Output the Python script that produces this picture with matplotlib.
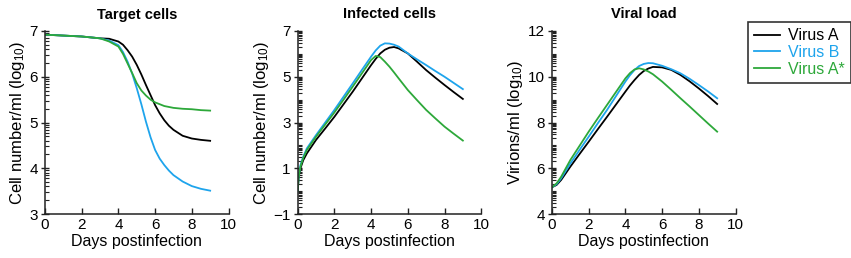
import numpy as np
import matplotlib
matplotlib.use("Agg")
import matplotlib.pyplot as plt
from matplotlib.ticker import FixedLocator

plt.rcParams['font.family'] = ['Liberation Sans', 'DejaVu Sans']
plt.rcParams['mathtext.fontset'] = 'custom'
plt.rcParams['mathtext.rm'] = 'Liberation Sans'
plt.rcParams['mathtext.it'] = 'Liberation Sans'

series_names = ["Virus A", "Virus B", "Virus A*"]
colors = ["#000000", "#1EA4EC", "#2DA83A"]

# Target cells
days_t = [0, 0.5, 1, 1.5, 2, 2.5, 3, 3.5, 4, 4.25, 4.5, 4.75, 5, 5.25, 5.5, 5.75, 6, 6.25, 6.5, 6.75, 7, 7.5, 8, 8.5, 9]
target_A = [6.92, 6.91, 6.90, 6.89, 6.88, 6.86, 6.84, 6.83, 6.77, 6.70, 6.58, 6.44, 6.26, 6.05, 5.82, 5.60, 5.38, 5.20, 5.05, 4.93, 4.84, 4.71, 4.65, 4.62, 4.60]
target_B = [6.92, 6.91, 6.90, 6.89, 6.88, 6.86, 6.84, 6.79, 6.69, 6.54, 6.33, 6.07, 5.75, 5.40, 5.02, 4.68, 4.40, 4.21, 4.07, 3.95, 3.85, 3.71, 3.61, 3.55, 3.51]
target_As = [6.92, 6.91, 6.90, 6.89, 6.88, 6.86, 6.84, 6.77, 6.66, 6.50, 6.29, 6.08, 5.86, 5.70, 5.59, 5.50, 5.44, 5.40, 5.36, 5.34, 5.32, 5.30, 5.29, 5.27, 5.26]

# Infected cells
days_i = [0, 0.05, 0.15, 0.3, 0.5, 1, 1.5, 2, 2.5, 3, 3.5, 4, 4.25, 4.5, 4.75, 5, 5.25, 5.5, 6, 6.5, 7, 7.5, 8, 8.5, 9]
infected_A = [0.0, 0.6, 1.0, 1.35, 1.65, 2.24, 2.74, 3.25, 3.80, 4.35, 4.93, 5.51, 5.78, 6.02, 6.18, 6.27, 6.30, 6.24, 6.02, 5.66, 5.29, 4.96, 4.64, 4.33, 4.03]
infected_B = [0.0, 0.65, 1.14, 1.50, 1.87, 2.45, 3.00, 3.55, 4.13, 4.71, 5.30, 5.88, 6.15, 6.36, 6.46, 6.45, 6.40, 6.32, 6.02, 5.76, 5.51, 5.25, 5.00, 4.73, 4.46]
infected_As = [0.0, 0.6, 1.07, 1.45, 1.80, 2.38, 2.91, 3.44, 4.00, 4.57, 5.15, 5.73, 5.91, 5.86, 5.66, 5.44, 5.19, 4.93, 4.42, 3.98, 3.55, 3.18, 2.82, 2.51, 2.21]

# Viral load
days_v = [0, 0.25, 0.5, 1, 1.5, 2, 2.5, 3, 3.5, 4, 4.25, 4.5, 4.75, 5, 5.25, 5.5, 6, 6.5, 7, 7.5, 8, 8.5, 9]
viral_A = [5.17, 5.27, 5.49, 6.07, 6.62, 7.16, 7.71, 8.25, 8.80, 9.35, 9.62, 9.86, 10.08, 10.25, 10.36, 10.43, 10.41, 10.30, 10.08, 9.80, 9.49, 9.16, 8.81]
viral_B = [5.17, 5.30, 5.56, 6.21, 6.80, 7.38, 7.97, 8.55, 9.17, 9.79, 10.07, 10.30, 10.47, 10.56, 10.60, 10.59, 10.48, 10.33, 10.15, 9.91, 9.64, 9.36, 9.06]
viral_As = [5.17, 5.34, 5.63, 6.36, 6.98, 7.60, 8.19, 8.77, 9.35, 9.93, 10.16, 10.32, 10.37, 10.32, 10.23, 10.11, 9.79, 9.43, 9.06, 8.70, 8.33, 7.96, 7.60]

titles = ["Target cells", "Infected cells", "Viral load"]
ylabels = ["Cell number/ml (log$_{10}$)", "Cell number/ml (log$_{10}$)", "Virions/ml (log$_{10}$)"]
yranges = [(3, 7), (-1, 7), (4, 12)]
yticks = [[3, 4, 5, 6, 7], [-1, 1, 3, 5, 7], [4, 6, 8, 10, 12]]
xticks = [0, 2, 4, 6, 8, 10]

panels = [
    (days_t, [target_A, target_B, target_As]),
    (days_i, [infected_A, infected_B, infected_As]),
    (days_v, [viral_A, viral_B, viral_As]),
]

W, H = 851, 258
fig = plt.figure(figsize=(W / 100, H / 100), dpi=100)
lefts = [45, 297.7, 552]
axw = 183.5
bottom_px, top_px = 214, 31

handles = []
for i, (x, ys) in enumerate(panels):
    ax = fig.add_axes([lefts[i] / W, 1 - bottom_px / H, axw / W, (bottom_px - top_px) / H])
    for j, y in enumerate(ys):
        h, = ax.plot(x, y, color=colors[j], lw=1.3, label=series_names[j],
                     solid_joinstyle='round')
        if i == 0:
            handles.append(h)
    ax.set_xlim(0, 10)
    ax.set_ylim(*yranges[i])
    ax.set_xticks(xticks)
    ax.set_yticks(yticks[i])
    lo, hi = yranges[i]
    minors = []
    for n in range(lo, hi):
        for k in range(1, 10):
            v = n + np.log10(k)
            if v not in yticks[i] and lo <= v <= hi:
                minors.append(v)
    ax.yaxis.set_minor_locator(FixedLocator(minors))
    for s in ["top", "right"]:
        ax.spines[s].set_visible(False)
    for s in ["left", "bottom"]:
        ax.spines[s].set_linewidth(1.1)
        ax.spines[s].set_color("#222222")
    ax.tick_params(axis='y', which='major', direction='inout', length=6, width=1.0, labelsize=11, pad=2, color="#222222")
    ax.tick_params(axis='y', which='minor', direction='in', length=3, width=0.8, color="#222222")
    ax.tick_params(axis='x', which='major', direction='in', length=4, width=1.0, labelsize=11, pad=3, color="#222222")
    ax.set_title(titles[i], fontsize=10.5, fontweight='bold', pad=9)
    ax.set_xlabel("Days postinfection", fontsize=11.5, labelpad=1)
    ax.set_ylabel(ylabels[i], fontsize=12, labelpad=2)

leg = fig.legend(handles=handles, loc='upper left', bbox_to_anchor=(748 / W, 1 - 22 / H),
                 fontsize=11.5, frameon=True, fancybox=False, handlelength=1.6,
                 handletextpad=0.5, borderpad=0.4, labelspacing=0.1, borderaxespad=0)
leg.get_frame().set_edgecolor("black")
leg.get_frame().set_linewidth(1.2)
for t, c in zip(leg.get_texts(), colors):
    t.set_color(c)

fig.savefig("out.png", dpi=100)
